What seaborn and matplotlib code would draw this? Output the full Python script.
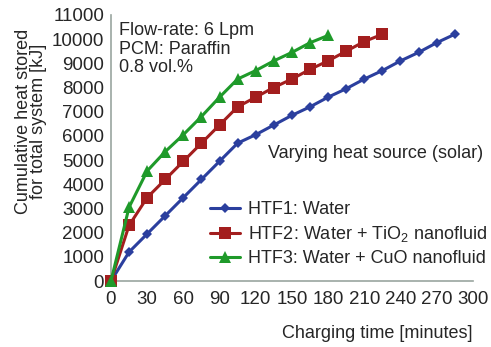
import pandas as pd
import seaborn as sns
import matplotlib.pyplot as plt

# charging time [min] and cumulative heat [kJ]
t_water = [0, 15, 30, 45, 60, 75, 90, 105, 120, 135, 150, 165, 180, 195, 210, 225, 240, 255, 270, 285]
q_water = [0, 1200, 1950, 2700, 3450, 4200, 4950, 5700, 6050, 6450, 6850, 7200, 7600, 7950, 8350, 8700, 9100, 9450, 9850, 10200]
t_tio2 = [0, 15, 30, 45, 60, 75, 90, 105, 120, 135, 150, 165, 180, 195, 210, 225]
q_tio2 = [0, 2300, 3450, 4200, 4950, 5700, 6450, 7200, 7600, 8000, 8350, 8750, 9100, 9500, 9900, 10200]
t_cuo = [0, 15, 30, 45, 60, 75, 90, 105, 120, 135, 150, 165, 180]
q_cuo = [0, 3050, 4550, 5350, 6050, 6800, 7600, 8350, 8700, 9100, 9450, 9850, 10150]

labels = ['HTF1: Water', 'HTF2: Water + TiO$_2$ nanofluid', 'HTF3: Water + CuO nanofluid']

df = pd.concat([
    pd.DataFrame({'time': t_water, 'heat': q_water, 'htf': labels[0]}),
    pd.DataFrame({'time': t_tio2, 'heat': q_tio2, 'htf': labels[1]}),
    pd.DataFrame({'time': t_cuo, 'heat': q_cuo, 'htf': labels[2]}),
])

sns.set_style('white')
plt.rcParams['font.family'] = ['Liberation Sans', 'DejaVu Sans']
plt.rcParams['mathtext.fontset'] = 'custom'
plt.rcParams['mathtext.rm'] = 'Liberation Sans'
plt.rcParams['mathtext.it'] = 'Liberation Sans'

fs = 13
txt = '#262626'

fig = plt.figure(figsize=(4.91, 3.47), dpi=100)
ax = fig.add_axes([0.226, 0.19, 0.737, 0.767])

pal = {labels[0]: '#2b3f9e', labels[1]: '#a31e1e', labels[2]: '#1f9a2a'}
mk = {labels[0]: 'D', labels[1]: 's', labels[2]: '^'}
sizes = {labels[0]: 5.5, labels[1]: 9, labels[2]: 8.5}

for lab in labels:
    sub = df[df['htf'] == lab]
    sns.lineplot(data=sub, x='time', y='heat', color=pal[lab], marker=mk[lab],
                 markersize=sizes[lab], markeredgewidth=0, lw=2.2, label=lab,
                 ax=ax, clip_on=False, zorder=3)

ax.set_xlim(0, 300)
ax.set_ylim(0, 11000)
ax.set_xticks(range(0, 301, 30))
ax.set_yticks(range(0, 11001, 1000))
for s in ['top', 'right']:
    ax.spines[s].set_visible(False)
for s in ['left', 'bottom']:
    ax.spines[s].set_color('#9aa5a0')
    ax.spines[s].set_linewidth(1.2)
ax.tick_params(axis='x', direction='in', length=3, color='#9aa5a0', labelsize=13.5, pad=7, labelcolor=txt)
ax.tick_params(axis='y', direction='out', length=3, color='#9aa5a0', labelsize=13.5, pad=2, labelcolor=txt)

ax.set_xlabel('Charging time [minutes]', fontsize=fs, color=txt)
ax.xaxis.set_label_coords(1.0, -0.165, transform=ax.transAxes)
ax.xaxis.label.set_horizontalalignment('right')
ax.set_ylabel('Cumulative heat stored\nfor total system [kJ]', fontsize=fs, color=txt, linespacing=0.85)
ax.yaxis.set_label_coords(-0.177, 0.6)

ax.text(0.022, 0.975, 'Flow-rate: 6 Lpm\nPCM: Paraffin\n0.8 vol.%', transform=ax.transAxes,
        fontsize=fs, va='top', ha='left', color=txt, linespacing=1.15)
ax.text(1.028, 0.48, 'Varying heat source (solar)', transform=ax.transAxes,
        fontsize=fs, va='center', ha='right', color=txt)

ax.legend(loc='lower left', bbox_to_anchor=(0.254, 0.024), frameon=False, fontsize=fs,
          handlelength=1.65, handletextpad=0.45, labelspacing=0.35, borderaxespad=0)

fig.savefig('out.png', dpi=100)
